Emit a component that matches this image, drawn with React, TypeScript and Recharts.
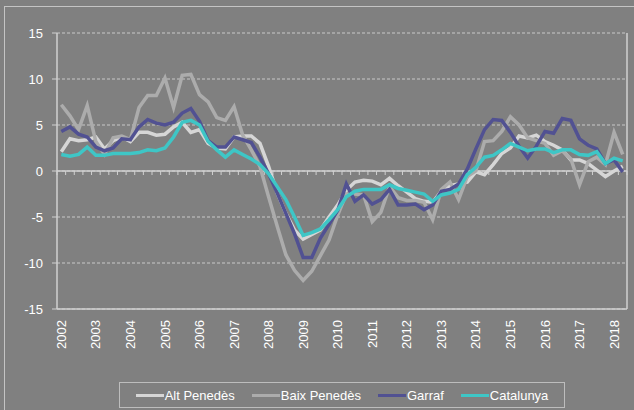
import React from 'react';
import { LineChart, Line, XAxis, YAxis, CartesianGrid, ReferenceLine } from 'recharts';

const YEARS = [2002, 2003, 2004, 2005, 2006, 2007, 2008, 2009, 2010, 2011, 2012, 2013, 2014, 2015, 2016, 2017, 2018];
const QUARTERS = ['T1', 'T2', 'T3', 'T4'];
const Y_TICKS = [-15, -10, -5, 0, 5, 10, 15];

// quarterly % change, 2002T1 .. 2018T2
const ALT_PENEDES = [
  2.1, 3.5, 3.3, 3.4, 3.7, 2.4, 3.3, 3.7, 3.2, 4.2, 4.2, 3.9, 4.0, 4.8, 5.3, 4.2,
  4.5, 3.0, 2.5, 2.4, 3.7, 3.8, 3.8, 3.0, 0.5, -2.4, -4.6, -6.4, -7.4, -6.9, -6.4, -5.0,
  -3.7, -2.1, -1.2, -1.0, -1.1, -1.5, -0.8, -1.6, -2.3, -3.0, -3.3, -3.4, -2.2, -1.6, -1.4, -1.2,
  -0.1, -0.4, 0.7, 1.9, 2.5, 3.8, 3.6, 3.9, 3.2, 2.8, 2.3, 1.2, 1.2, 0.8, 0.1, -0.6,
  0.0, 0.5,
];
const BAIX_PENEDES = [
  7.2, 6.0, 4.5, 7.1, 3.2, 1.8, 3.6, 3.8, 3.4, 6.9, 8.2, 8.2, 10.1, 6.9, 10.4, 10.5,
  8.3, 7.5, 5.8, 5.5, 7.0, 3.9, 2.3, 0.5, -2.8, -6.0, -9.1, -10.8, -11.9, -10.9, -9.2, -7.5,
  -4.8, -2.5, -2.5, -2.6, -5.5, -4.5, -1.7, -2.9, -3.2, -3.2, -3.4, -5.3, -2.0, -1.2, -3.1, -0.6,
  0.0, 3.2, 3.3, 4.3, 5.9, 5.0, 3.6, 3.3, 3.0, 1.7, 2.2, 1.3, -1.5, 1.0, 1.5, 0.7,
  4.2, 1.8,
];
const GARRAF = [
  4.3, 4.8, 4.0, 3.7, 2.6, 2.2, 2.5, 3.5, 3.4, 4.8, 5.6, 5.2, 5.0, 5.3, 6.3, 6.8,
  5.4, 3.3, 2.6, 2.6, 3.7, 3.4, 3.1, 1.5, -0.3, -2.4, -4.6, -6.8, -9.4, -9.4, -7.3, -5.8,
  -4.3, -1.4, -3.3, -2.6, -3.6, -3.1, -2.0, -3.7, -3.7, -3.6, -4.2, -3.7, -2.2, -2.0, -1.4, 0.2,
  2.4, 4.5, 5.6, 5.5, 4.2, 2.7, 1.4, 2.7, 4.3, 4.1, 5.7, 5.5, 3.5, 2.8, 2.4, 0.8,
  1.2, -0.1,
];
const CATALUNYA = [
  1.8, 1.6, 1.8, 2.6, 1.7, 1.7, 1.9, 1.9, 1.9, 2.0, 2.3, 2.2, 2.5, 3.7, 5.3, 5.5,
  5.0, 3.2, 2.3, 1.5, 2.3, 1.8, 1.3, 0.7, -0.3, -1.7, -3.1, -5.0, -7.0, -6.7, -6.3, -5.3,
  -4.2, -2.8, -2.2, -2.0, -2.0, -2.0, -1.5, -1.9, -2.1, -2.3, -2.5, -3.3, -2.6, -2.4, -2.0, -0.4,
  0.4, 1.5, 1.7, 2.3, 3.0, 2.6, 2.2, 2.4, 2.4, 2.0, 2.3, 2.3, 1.8, 1.7, 2.1, 0.8,
  1.4, 1.1,
];

const PERIODS = YEARS.flatMap(y => QUARTERS.map(q => `${y}${q}`)).slice(0, ALT_PENEDES.length);

const data = PERIODS.map((p, i) => ({
  period: p,
  alt: ALT_PENEDES[i],
  baix: BAIX_PENEDES[i],
  garraf: GARRAF[i],
  cat: CATALUNYA[i],
}));

const SERIES = [
  { key: 'alt', name: 'Alt Penedès', color: '#d6d6d6' },
  { key: 'baix', name: 'Baix Penedès', color: '#acacac' },
  { key: 'garraf', name: 'Garraf', color: '#515192' },
  { key: 'cat', name: 'Catalunya', color: '#3ec6c6' },
];

const FONT = '"Liberation Sans", Arial, sans-serif';
const AXIS = '#d0d0d0';

const YearTick = (props: any) => {
  const { x, y, payload } = props;
  return (
    <text
      transform={`translate(${x},${y + 9}) rotate(-90)`}
      textAnchor="end"
      dy="0.35em"
      fill="#ffffff"
      fontSize={13}
      fontFamily={FONT}
    >
      {String(payload.value).slice(0, 4)}
    </text>
  );
};

// zero line with small tick marks between categories
const ZeroAxis = (props: any) => {
  const { x1, x2, y1 } = props;
  const n = data.length;
  const step = (x2 - x1) / n;
  const ticks = [];
  for (let i = 0; i <= n; i++) {
    const tx = x1 + i * step;
    ticks.push(<line key={i} x1={tx} x2={tx} y1={y1} y2={y1 + 4} stroke={AXIS} strokeWidth={1} />);
  }
  return (
    <g>
      <line x1={x1} x2={x2} y1={y1} y2={y1} stroke={AXIS} strokeWidth={1.5} />
      {ticks}
    </g>
  );
};

export default function App() {
  return (
    <div style={{ position: 'absolute', left: 0, top: 0, width: 634, height: 410, background: '#808080', overflow: 'hidden', fontFamily: FONT }}>
      <div style={{ position: 'absolute', left: 4, top: 6, width: 700, height: 500, borderLeft: '1px solid #c4c4c4', borderTop: '1.5px solid #c4c4c4' }} />
      <LineChart
        width={634}
        height={410}
        data={data}
        margin={{ top: 33, right: 6, left: 0, bottom: 51 }}
        style={{ position: 'absolute', left: 0, top: 0 }}
      >
        <CartesianGrid vertical={false} stroke="#c8c8c8" strokeDasharray="3 2" />
        <XAxis
          dataKey="period"
          interval={3}
          height={50}
          padding={{ left: 4.3, right: 4.3 }}
          axisLine={{ stroke: AXIS, strokeWidth: 1.5 }}
          tickLine={false}
          tickSize={0}
          tick={<YearTick />}
        />
        <YAxis
          domain={[-15, 15]}
          ticks={Y_TICKS}
          width={57}
          axisLine={{ stroke: AXIS, strokeWidth: 1.5 }}
          tickLine={{ stroke: AXIS }}
          tickSize={5}
          tickMargin={9}
          tick={{ fill: '#ffffff', fontSize: 13, fontFamily: FONT }}
          interval={0}
        />
        <YAxis
          yAxisId="right"
          orientation="right"
          domain={[-15, 15]}
          width={1}
          tick={false}
          tickLine={false}
          axisLine={{ stroke: AXIS, strokeWidth: 1.5 }}
        />
        <ReferenceLine y={0} shape={<ZeroAxis />} />
        {SERIES.map(s => (
          <Line
            key={s.key}
            type="linear"
            dataKey={s.key}
            name={s.name}
            stroke={s.color}
            strokeWidth={3.5}
            dot={false}
            isAnimationActive={false}
          />
        ))}
      </LineChart>
      <div
        style={{
          position: 'absolute',
          left: 119,
          top: 382,
          width: 446,
          height: 26,
          boxSizing: 'border-box',
          border: '1px solid #bdbdbd',
          display: 'flex',
          alignItems: 'center',
          justifyContent: 'center',
          gap: 17,
          color: '#ffffff',
          fontSize: 13,
        }}
      >
        {SERIES.map(s => (
          <div key={s.key} style={{ display: 'flex', alignItems: 'center' }}>
            <div style={{ width: 28, height: 3, background: s.color, marginRight: 1 }} />
            <span>{s.name}</span>
          </div>
        ))}
      </div>
    </div>
  );
}
